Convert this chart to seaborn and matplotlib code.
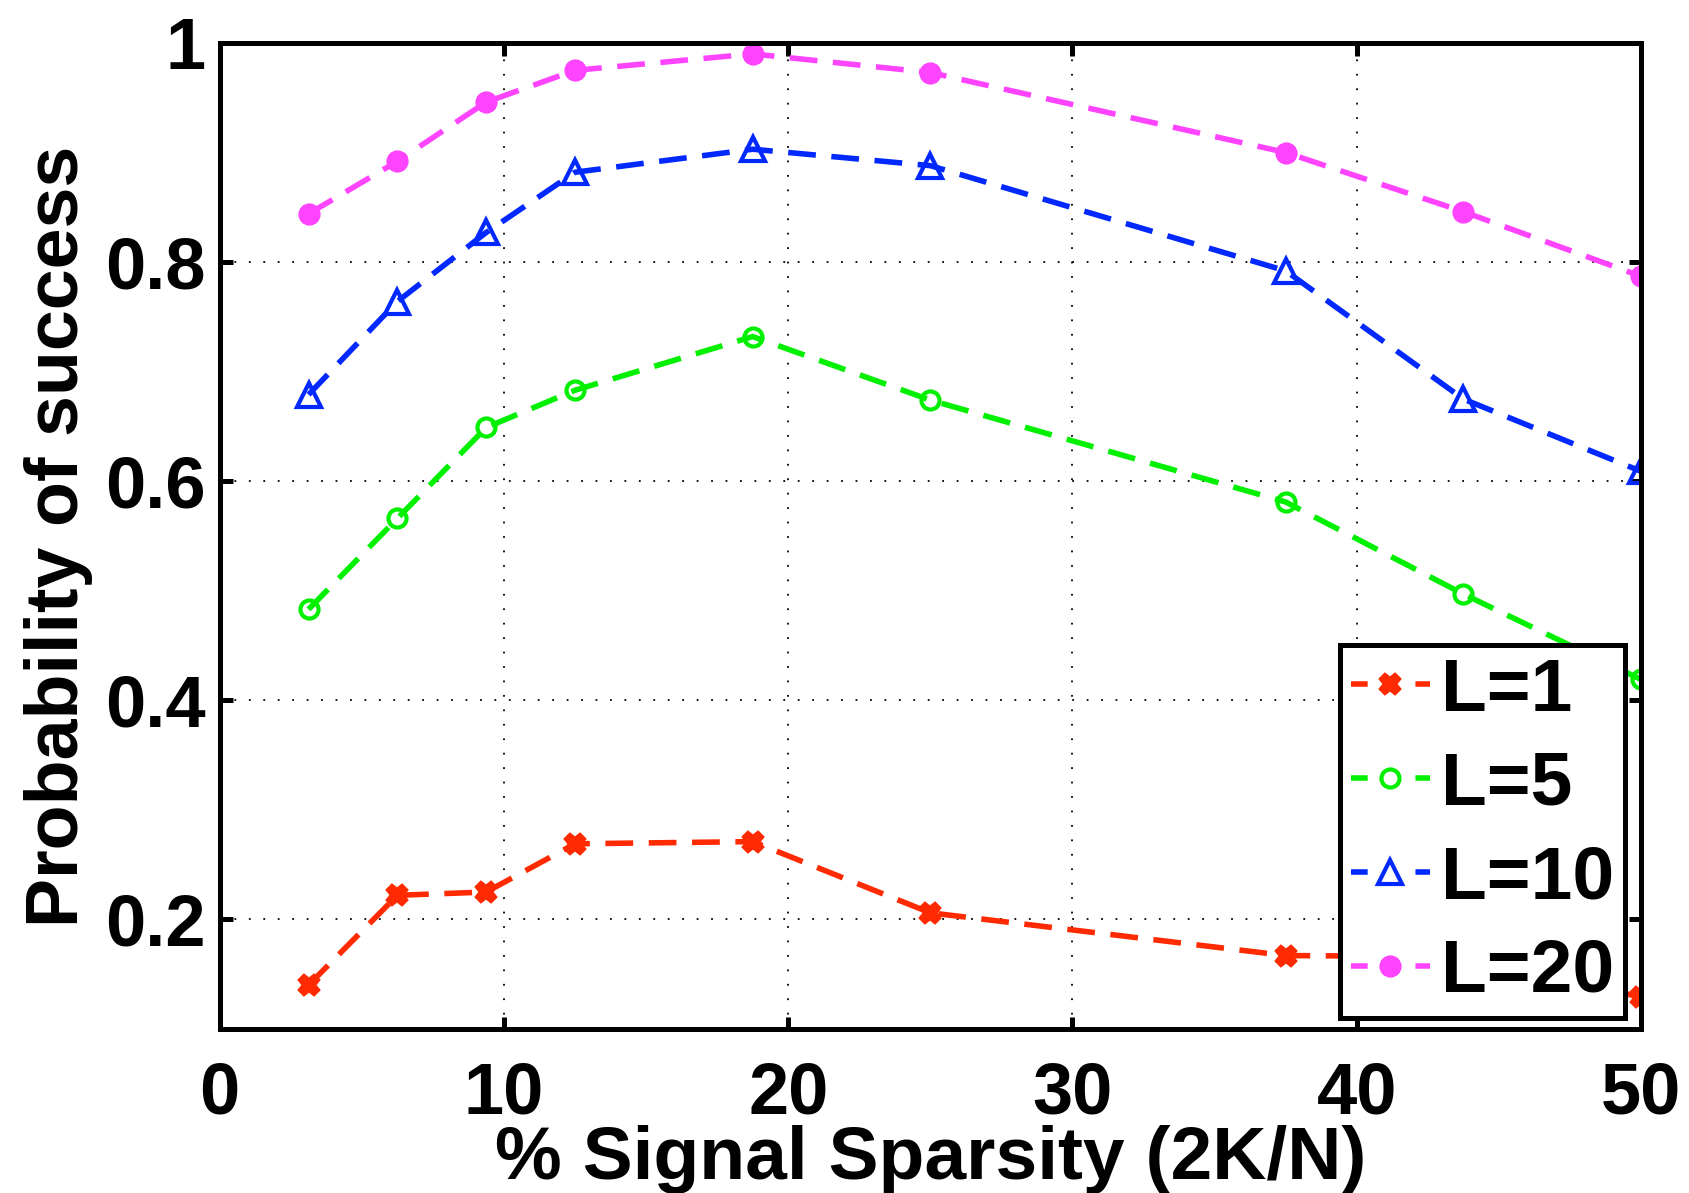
import numpy as np
import pandas as pd
import matplotlib
matplotlib.use("Agg")
import matplotlib.pyplot as plt
import seaborn as sns

# sparsity in percent (2K/N)
sparsity = [3.125, 6.25, 9.375, 12.5, 18.75, 25.0, 37.5, 43.75, 50.0]

p_L1 = [0.140, 0.222, 0.225, 0.269, 0.271, 0.206, 0.167, 0.166, 0.129]
p_L5 = [0.483, 0.566, 0.649, 0.683, 0.732, 0.674, 0.581, 0.497, 0.419]
p_L10 = [0.679, 0.764, 0.827, 0.882, 0.903, 0.888, 0.792, 0.675, 0.609]
p_L20 = [0.844, 0.892, 0.946, 0.975, 0.990, 0.973, 0.900, 0.846, 0.787]

labels = ["L=1", "L=5", "L=10", "L=20"]

sns.set_style("ticks")
plt.rcParams["font.family"] = ["Liberation Sans", "DejaVu Sans"]
plt.rcParams["font.weight"] = "bold"
plt.rcParams["text.color"] = "black"
plt.rcParams["axes.labelcolor"] = "black"
plt.rcParams["xtick.color"] = "black"
plt.rcParams["ytick.color"] = "black"

fig, ax = plt.subplots(figsize=(16.9, 11.93), dpi=100)
fig.subplots_adjust(left=0.130, right=0.971, top=0.964, bottom=0.1375)

# marker style per series: (color, marker, size, filled)
styles = [
    ("#ff2a00", "X", 13, True),
    ("#00f000", "o", 13, False),
    ("#0028ff", "^", 17, False),
    ("#ff44ff", "o", 13, True),
]

for vals, lab, (col, mk, ms, filled) in zip([p_L1, p_L5, p_L10, p_L20], labels, styles):
    df = pd.DataFrame({"x": sparsity, "y": vals})
    sns.lineplot(data=df, x="x", y="y", ax=ax, color=col, linewidth=4,
                 dashes=False, marker=mk, markersize=ms,
                 markeredgecolor=col, markeredgewidth=3,
                 markerfacecolor=col if filled else "none",
                 label=lab)

for line in ax.get_lines():
    line.set_linestyle((0, (5.0, 2.8)))

ax.set_xlim(0, 50)
ax.set_ylim(0.1, 1.0)
ax.set_xticks([0, 10, 20, 30, 40, 50])
ax.set_yticks([0.2, 0.4, 0.6, 0.8, 1.0])
ax.set_yticklabels(["0.2", "0.4", "0.6", "0.8", "1"])

ax.grid(True, color="black", linestyle=(0, (1, 7)), linewidth=1.3)
for s in ax.spines.values():
    s.set_linewidth(3.6)
    s.set_color("black")
ax.tick_params(direction="in", length=9, width=3.6, top=True, right=True,
               labelsize=52, pad=10)
ax.tick_params(axis="x", pad=23)

ax.set_xlabel("% Signal Sparsity (2K/N)", fontsize=54, fontweight="bold", labelpad=-3)
ax.set_ylabel("Probability of success", fontsize=53, fontweight="bold", labelpad=9)

leg = ax.legend(loc="lower right", bbox_to_anchor=(0.989, 0.011), borderaxespad=0,
                fontsize=54, fancybox=False, framealpha=1, edgecolor="black",
                handlelength=1.05, handletextpad=0.15, labelspacing=0.33,
                borderpad=0.15)
leg.get_frame().set_linewidth(3.6)
for h in leg.get_lines():
    h.set_linestyle((0, (3.0, 8.6)))

fig.savefig("out.png", dpi=100)
